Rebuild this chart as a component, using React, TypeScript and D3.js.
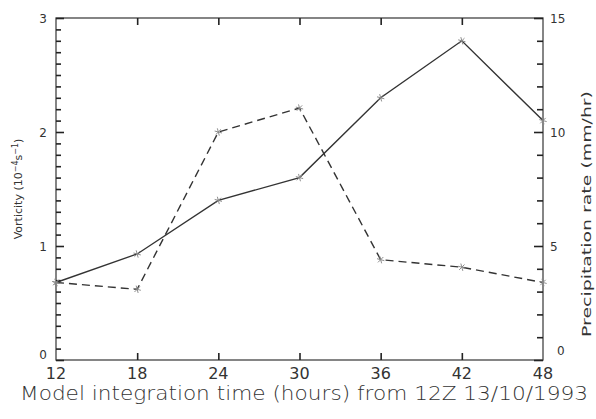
import { useEffect, useRef } from "react"
import * as d3 from "d3"

// model hours from 12Z 13/10/1993
const hours = [12, 18, 24, 30, 36, 42, 48]
// vorticity (10^-4 s^-1), solid line
const vorticity = [0.68, 0.93, 1.4, 1.6, 2.3, 2.8, 2.1]
// precipitation rate (mm/hr), dashed line
const precip = [3.4, 3.1, 10.0, 11.05, 4.4, 4.07, 3.4]

const xTicks = [12, 18, 24, 30, 36, 42, 48]
const leftTicks = [0, 1, 2, 3]
const rightTicks = [0, 5, 10, 15]

const W = 596
const H = 419
const m = { left: 56, right: 543, top: 18, bottom: 360 }

export default function App() {
  const svgRef = useRef<SVGSVGElement>(null)

  useEffect(() => {
    if (!svgRef.current) return
    const svg = d3.select(svgRef.current)
    svg.selectAll("*").remove()
    svg.style("font-family", "'DejaVu Sans', sans-serif")

    const axisColor = "#444"
    const lineColor = "#333"

    const x = d3.scaleLinear().domain([12, 48]).range([m.left, m.right])
    const yL = d3.scaleLinear().domain([0, 3]).range([m.bottom, m.top])
    const yR = d3.scaleLinear().domain([0, 15]).range([m.bottom, m.top])

    // frame
    svg
      .append("rect")
      .attr("x", m.left)
      .attr("y", m.top)
      .attr("width", m.right - m.left)
      .attr("height", m.bottom - m.top)
      .attr("fill", "none")
      .attr("stroke", axisColor)
      .attr("stroke-width", 1.3)

    // inward ticks, labels drawn separately
    const styleAxis = (g: d3.Selection<SVGGElement, unknown, null, undefined>) => {
      g.select(".domain").remove()
      g.selectAll(".tick line").attr("stroke", "#222").attr("stroke-width", 1.6)
      g.selectAll(".tick text").remove()
    }

    const innerX = xTicks.slice(1, -1)
    svg
      .append("g")
      .attr("transform", `translate(0,${m.bottom})`)
      .call(d3.axisBottom(x).tickValues(innerX).tickSize(-7))
      .call(styleAxis)
    svg
      .append("g")
      .attr("transform", `translate(0,${m.top})`)
      .call(d3.axisTop(x).tickValues(innerX).tickSize(-7))
      .call(styleAxis)

    const leftMinor = d3.range(0, 31).filter((d) => d % 10 !== 0).map((d) => d / 10)
    svg
      .append("g")
      .attr("transform", `translate(${m.left},0)`)
      .call(d3.axisLeft(yL).tickValues(leftMinor).tickSize(-5))
      .call(styleAxis)
    svg
      .append("g")
      .attr("transform", `translate(${m.left},0)`)
      .call(d3.axisLeft(yL).tickValues(leftTicks).tickSize(-8))
      .call(styleAxis)

    const rightMinor = d3.range(0, 16).filter((d) => d % 5 !== 0)
    svg
      .append("g")
      .attr("transform", `translate(${m.right},0)`)
      .call(d3.axisRight(yR).tickValues(rightMinor).tickSize(-6))
      .call(styleAxis)
    svg
      .append("g")
      .attr("transform", `translate(${m.right},0)`)
      .call(d3.axisRight(yR).tickValues(rightTicks).tickSize(-9))
      .call(styleAxis)

    // x tick labels
    svg
      .append("g")
      .selectAll("text")
      .data(xTicks)
      .join("text")
      .attr("x", (d) => x(d))
      .attr("y", 379)
      .attr("text-anchor", "middle")
      .attr("font-size", 16)
      .attr("fill", "#333")
      .text((d) => d)

    // left tick labels
    svg
      .append("g")
      .selectAll("text")
      .data(leftTicks)
      .join("text")
      .attr("x", 47)
      .attr("y", (d) => yL(d) + (d === 0 ? -1 : 5))
      .attr("text-anchor", "end")
      .attr("font-size", 12)
      .attr("fill", "#333")
      .text((d) => d)

    // right tick labels
    svg
      .append("g")
      .selectAll("text")
      .data(rightTicks)
      .join("text")
      .attr("x", (d) => (d === 0 ? 557 : 550))
      .attr("y", (d) => yR(d) + (d === 0 ? -5 : 5))
      .attr("font-size", 12)
      .attr("fill", "#333")
      .text((d) => d)

    // x axis title
    svg
      .append("text")
      .attr("x", 304)
      .attr("y", 400)
      .attr("text-anchor", "middle")
      .attr("font-size", 19)
      .attr("font-weight", 300)
      .attr("fill", "#333")
      .attr("textLength", 568)
      .attr("lengthAdjust", "spacingAndGlyphs")
      .text("Model integration time (hours) from 12Z 13/10/1993")

    // left axis title with superscripts
    const lt = svg
      .append("text")
      .attr("transform", `translate(22,189) rotate(-90)`)
      .attr("text-anchor", "middle")
      .attr("font-size", 11)
      .attr("fill", "#333")
    lt.append("tspan").text("Vorticity (10")
    lt.append("tspan").attr("dy", -4).attr("font-size", 8).text("−4")
    lt.append("tspan").attr("dy", 4).text("s")
    lt.append("tspan").attr("dy", -4).attr("font-size", 8).text("−1")
    lt.append("tspan").attr("dy", 4).text(")")

    // right axis title
    svg
      .append("text")
      .attr("transform", `translate(591,214) rotate(-90)`)
      .attr("text-anchor", "middle")
      .attr("font-size", 12)
      .attr("fill", "#333")
      .attr("textLength", 246)
      .attr("lengthAdjust", "spacingAndGlyphs")
      .text("Precipitation rate (mm/hr)")

    // series
    const vortLine = d3
      .line<number>()
      .x((_, i) => x(hours[i]))
      .y((d) => yL(d))
    const precLine = d3
      .line<number>()
      .x((_, i) => x(hours[i]))
      .y((d) => yR(d))

    svg
      .append("path")
      .attr("d", vortLine(vorticity))
      .attr("fill", "none")
      .attr("stroke", lineColor)
      .attr("stroke-width", 1.4)
    svg
      .append("path")
      .attr("d", precLine(precip))
      .attr("fill", "none")
      .attr("stroke", lineColor)
      .attr("stroke-width", 1.4)
      .attr("stroke-dasharray", "8,5")

    // asterisk markers
    const star = d3.symbol().type(d3.symbolAsterisk ?? d3.symbolCross).size(40)
    const pts = [
      ...vorticity.map((v, i) => [x(hours[i]), yL(v)]),
      ...precip.map((v, i) => [x(hours[i]), yR(v)]),
    ]
    svg
      .append("g")
      .selectAll("path")
      .data(pts)
      .join("path")
      .attr("transform", (d) => `translate(${d[0]},${d[1]}) rotate(45)`)
      .attr("d", star)
      .attr("fill", "none")
      .attr("stroke", "#888")
      .attr("stroke-width", 0.9)
  }, [])

  return (
    <svg
      ref={svgRef}
      width={W}
      height={H}
      style={{ position: "absolute", left: 0, top: 0, background: "#fff" }}
    />
  )
}
